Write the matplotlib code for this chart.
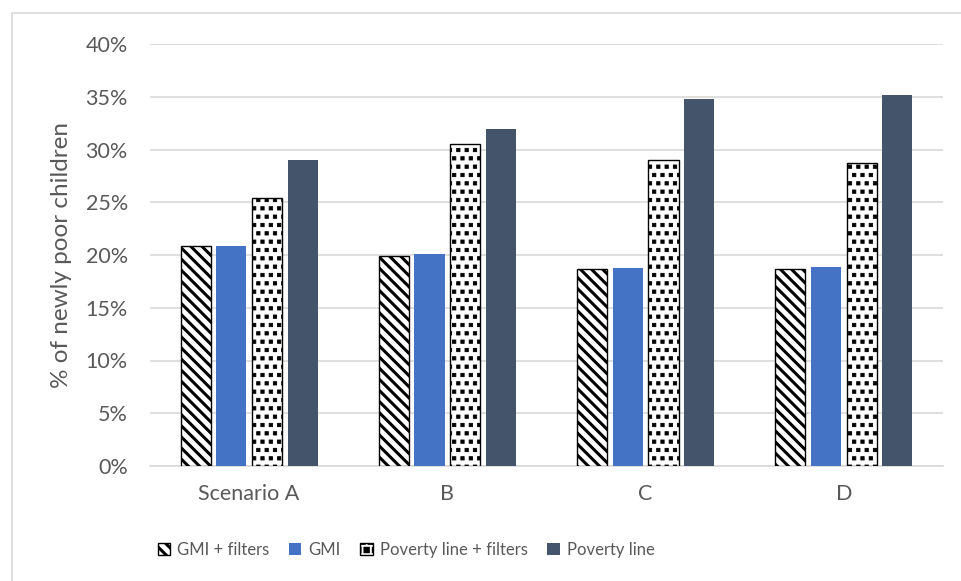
import matplotlib
matplotlib.use("Agg")
import matplotlib.pyplot as plt
import matplotlib.hatch as mhatch
from matplotlib.path import Path
import numpy as np
from matplotlib.patches import Rectangle

categories = ["Scenario A", "B", "C", "D"]
series_names = ["GMI + filters", "GMI", "Poverty line + filters", "Poverty line"]
gmi_filters = [20.9, 19.9, 18.7, 18.7]
gmi = [20.85, 20.1, 18.8, 18.9]
poverty_filters = [25.4, 30.5, 29.0, 28.7]
poverty = [29.05, 31.9, 34.8, 35.15]
yticks = [0, 5, 10, 15, 20, 25, 30, 35, 40]


# square "confetti" dots for the '.' hatch (Excel-like pattern)
try:
    class SquareDots(mhatch.Shapes):
        size = 0.2
        filled = True

        def __init__(self, hatch, density):
            n = int(hatch.count('.') * density)
            self.num_rows = n - (n % 2)
            self.shape_vertices = np.array(
                [[-1, -1], [1, -1], [1, 1], [-1, 1], [-1, -1]], float)
            self.shape_codes = np.array(
                [Path.MOVETO, Path.LINETO, Path.LINETO, Path.LINETO,
                 Path.CLOSEPOLY], dtype=Path.code_type)
            super().__init__(hatch, density)

    mhatch._hatch_types = [SquareDots if t is mhatch.SmallFilledCircles else t
                           for t in mhatch._hatch_types]
except Exception:
    pass

plt.rcParams['font.family'] = ['Lato', 'DejaVu Sans']
plt.rcParams['hatch.linewidth'] = 2.2

fig = plt.figure(figsize=(9.61, 5.81), dpi=100)
ax = fig.add_axes([150/961, 1-466/581, 793/961, 422/581])

text_color = "#595959"
x = np.arange(len(categories))
spacing = 0.18
width = 0.152
offsets = [-1.5, -0.5, 0.5, 1.5]
styles = [
    dict(facecolor="white", edgecolor="black", hatch="\\\\\\", linewidth=1.0),
    dict(facecolor="#4472C4", edgecolor="#4472C4", linewidth=0),
    dict(facecolor="white", edgecolor="black", hatch="..", linewidth=1.0),
    dict(facecolor="#44546A", edgecolor="#44546A", linewidth=0),
]
all_vals = [gmi_filters, gmi, poverty_filters, poverty]
handles = []
for i, (vals, off, st, name) in enumerate(zip(all_vals, offsets, styles, series_names)):
    b = ax.bar(x + off*spacing, vals, width, label=name, zorder=3, **st)
    if i == 2:
        for p in b.patches:
            try:
                p.set_hatch_linewidth(0.6)
            except Exception:
                pass
    handles.append(b)

ax.set_xlim(-0.5, 3.5)
ax.set_ylim(0, 40)
ax.set_yticks(yticks)
ax.set_yticklabels([f"{t}%" for t in yticks])
ax.set_xticks(x)
ax.set_xticklabels(categories)
ax.grid(axis='y', color="#D9D9D9", linewidth=1.2, zorder=0)
for s in ["top", "right", "left"]:
    ax.spines[s].set_visible(False)
ax.spines["bottom"].set_color("#D9D9D9")
ax.spines["bottom"].set_linewidth(1.2)
ax.tick_params(axis='both', length=0, colors=text_color, labelsize=15.5)
ax.tick_params(axis='y', pad=16)
ax.tick_params(axis='x', pad=13)
ax.set_ylabel("% of newly poor children", color=text_color, fontsize=17.5, labelpad=10)

leg = fig.legend(handles=handles, labels=series_names, loc="center",
                 bbox_to_anchor=(406/961, 1-550/581), ncol=4, frameon=False,
                 fontsize=12.0, handlelength=0.75, handleheight=0.75,
                 columnspacing=1.2, handletextpad=0.4)
for t in leg.get_texts():
    t.set_color(text_color)

fig.patches.append(Rectangle((12/961, -0.05), 1.0, 1-13/581+0.05,
                             transform=fig.transFigure, fill=False,
                             edgecolor="#D9D9D9", linewidth=1.2))

fig.savefig("out.png", dpi=100, facecolor="white")
